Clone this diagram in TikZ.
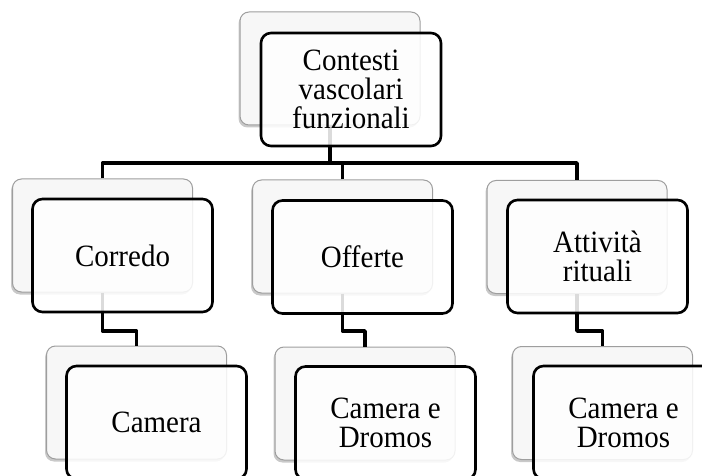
\documentclass[tikz,border=0pt]{standalone}
\usepackage{fontspec}
\setmainfont{Liberation Serif}[FakeStretch=0.935]
\usetikzlibrary{calc,shadows}
\begin{document}
\begin{tikzpicture}[x=1pt,y=-1pt,
  backbox/.style={draw=black!38, line width=1pt, fill=black!3,
    rounded corners=9pt, minimum width=180pt, minimum height=113pt, inner sep=0pt,
    drop shadow={shadow xshift=-1.5pt, shadow yshift=-2.5pt, opacity=0.3, fill=black!70}},
  frontbox/.style={draw=black, line width=2.6pt, fill=white, fill opacity=0.86,
    text opacity=1, rounded corners=10pt, minimum width=180pt, minimum height=113pt,
    inner sep=0pt, align=center, font=\fontsize{31}{28.8}\selectfont},
  link/.style={draw=black, line width=3.5pt, line join=round}
]
\useasboundingbox (0,0) rectangle (702,476);
\clip (0,0) rectangle (702,476);

% rear cards
\node[backbox] (b0) at (330,68.5) {};
\node[backbox] (b1) at (102.5,235.5) {};
\node[backbox] (b2) at (342.5,236.5) {};
\node[backbox] (b3) at (577,237) {};
\node[backbox] (b4) at (136.5,402.5) {};
\node[backbox] (b5) at (365,403.5) {};
\node[backbox] (b6) at (602.5,403) {};

% connector levels
\coordinate (bar) at (0,163);
\coordinate (mid) at (0,331);

\draw[link] (b0.south) -- (b0.south |- bar);
\draw[link] (b1.north) |- (b3.north |- bar) -- (b3.north);
\draw[link] (b2.north) -- (b2.north |- bar);
\draw[link] (b1.south) -- (b1.south |- mid) -| (b4.north);
\draw[link] (b2.south) -- (b2.south |- mid) -| (b5.north);
\draw[link] (b3.south) -- (b3.south |- mid) -| (b6.north);

% front cards with labels
\node[frontbox] (f0) at ($(b0)+(21,21)$) {Contesti\\vascolari\\funzionali};
\node[frontbox] (f1) at ($(b1)+(20,20)$) {Corredo};
\node[frontbox] (f2) at ($(b2)+(20,20.5)$) {Offerte};
\node[frontbox] (f3) at ($(b3)+(20.5,19.5)$) {Attività\\rituali};
\node[frontbox] (f4) at ($(b4)+(20,20)$) {Camera};
\node[frontbox] (f5) at ($(b5)+(20.5,19.5)$) {Camera e\\Dromos};
\node[frontbox] (f6) at ($(b6)+(21,19.5)$) {Camera e\\Dromos};
\end{tikzpicture}
\end{document}
